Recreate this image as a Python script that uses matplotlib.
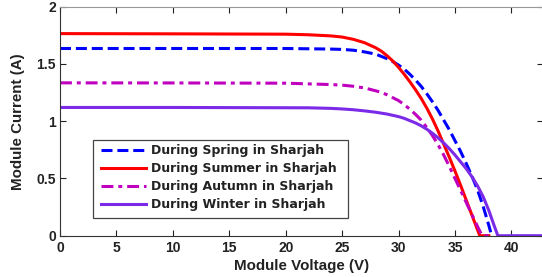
import matplotlib
matplotlib.use("Agg")
import matplotlib.pyplot as plt
from matplotlib.patches import Rectangle

# Spring (blue dashed)
v_spring = [0, 10, 20, 24, 25, 26, 27, 28, 28.5, 29, 29.5, 30, 30.5, 31, 31.5, 32, 32.5, 33, 33.5,
            34, 34.5, 35, 35.5, 36, 36.5, 37, 37.5, 38, 38.25]
i_spring = [1.635, 1.635, 1.635, 1.63, 1.627, 1.62, 1.605, 1.585, 1.565, 1.545, 1.52, 1.49, 1.455,
            1.41, 1.36, 1.305, 1.24, 1.17, 1.095, 1.01, 0.925, 0.83, 0.735, 0.63, 0.52, 0.40, 0.255,
            0.09, 0.0]
# Summer (red solid)
v_summer = [0, 10, 20, 22, 24, 25, 26, 27, 28, 28.5, 29, 29.5, 30, 30.5, 31, 31.5, 32, 32.5, 33,
            33.5, 34, 34.5, 35, 35.5, 36, 36.5, 37, 37.2, 38]
i_summer = [1.765, 1.763, 1.76, 1.755, 1.745, 1.735, 1.715, 1.685, 1.64, 1.61, 1.57, 1.525, 1.47,
            1.41, 1.345, 1.275, 1.20, 1.115, 1.02, 0.915, 0.80, 0.685, 0.565, 0.44, 0.31, 0.18,
            0.05, 0.0, 0.0]
# Autumn (magenta dash-dot)
v_autumn = [0, 10, 20, 24, 25, 26, 27, 28, 28.5, 29, 29.5, 30, 30.5, 31, 31.5, 32, 32.5, 33, 33.5,
            34, 34.5, 35, 35.5, 36, 36.5, 37, 37.4, 38]
i_autumn = [1.335, 1.334, 1.332, 1.32, 1.315, 1.305, 1.29, 1.265, 1.25, 1.23, 1.205, 1.18, 1.145,
            1.105, 1.06, 1.01, 0.945, 0.875, 0.795, 0.705, 0.605, 0.50, 0.395, 0.29, 0.185, 0.08,
            0.0, 0.0]
# Winter (purple solid)
v_winter = [0, 10, 22, 24, 25, 26, 27, 28, 29, 30, 30.5, 31, 31.5, 32, 32.5, 33, 33.5, 34, 34.5,
            35, 35.5, 36, 36.5, 37, 37.5, 38, 38.5, 38.8, 43]
i_winter = [1.12, 1.12, 1.117, 1.112, 1.107, 1.10, 1.09, 1.078, 1.062, 1.04, 1.025, 1.005, 0.985,
            0.96, 0.93, 0.895, 0.855, 0.81, 0.76, 0.705, 0.645, 0.585, 0.515, 0.435, 0.34, 0.22,
            0.08, 0.0, 0.0]

labels = ["During Spring in Sharjah", "During Summer in Sharjah",
          "During Autumn in Sharjah", "During Winter in Sharjah"]
x_ticks = [0, 5, 10, 15, 20, 25, 30, 35, 40]
y_ticks = [0, 0.5, 1, 1.5, 2]
y_ticklabels = ["0", "0.5", "1", "1.5", "2"]

W, H = 542, 277
plt.rcParams['font.family'] = ['Liberation Sans', 'DejaVu Sans']
fig = plt.figure(figsize=(W / 100, H / 100), dpi=100)
ax = fig.add_axes([60 / W, 41.3 / H, 483 / W, 229 / H])

lw = 2.2
ax.plot(v_spring, i_spring, color='#0000FF', lw=lw, ls=(0, (3.6, 1.6)), label=labels[0])
ax.plot(v_summer, i_summer, color='#FF0000', lw=lw, label=labels[1])
ax.plot(v_autumn, i_autumn, color='#BF00BF', lw=lw, ls=(0, (3.9, 1.6, 1.3, 1.6)), label=labels[2])
ax.plot(v_winter, i_winter, color='#7B2BE8', lw=lw, label=labels[3])

ax.set_xlim(0, 42.8)
ax.set_ylim(0, 2)
ax.set_xticks(x_ticks)
ax.set_yticks(y_ticks)
ax.set_yticklabels(y_ticklabels)
ax.tick_params(direction='in', top=True, right=True, length=4, width=0.8,
               labelsize=10, colors='#222222')
ax.tick_params(axis='x', pad=3.5)
ax.tick_params(axis='y', pad=3)
for lab in ax.get_xticklabels() + ax.get_yticklabels():
    lab.set_fontweight('bold')
for s in ax.spines.values():
    s.set_color('#333333')
    s.set_linewidth(0.8)
ax.spines['top'].set_color('#999999')

ax.set_xlabel('Module Voltage (V)', fontsize=10.9, fontweight='bold', labelpad=3,
              color='#222222')
ax.set_ylabel('Module Current (A)', fontsize=10.9, fontweight='bold', labelpad=8,
              color='#222222')

# legend frame
rect = Rectangle((93 / W, (H - 218) / H), 255 / W, 78 / H, transform=fig.transFigure,
                 facecolor='white', edgecolor='#444444', lw=0.9, zorder=4.5)
ax.add_patch(rect)
rect.set_clip_on(False)

leg = ax.legend(loc='upper left', bbox_to_anchor=(101 / W, (H - 144) / H),
                bbox_transform=fig.transFigure,
                prop={'family': 'DejaVu Sans', 'weight': 'bold', 'size': 9},
                handlelength=3.6, handletextpad=0.4, borderpad=0, labelspacing=0.4,
                frameon=False, borderaxespad=0)
for t in leg.get_texts():
    t.set_color('#222222')

fig.savefig('out.png', dpi=100)
